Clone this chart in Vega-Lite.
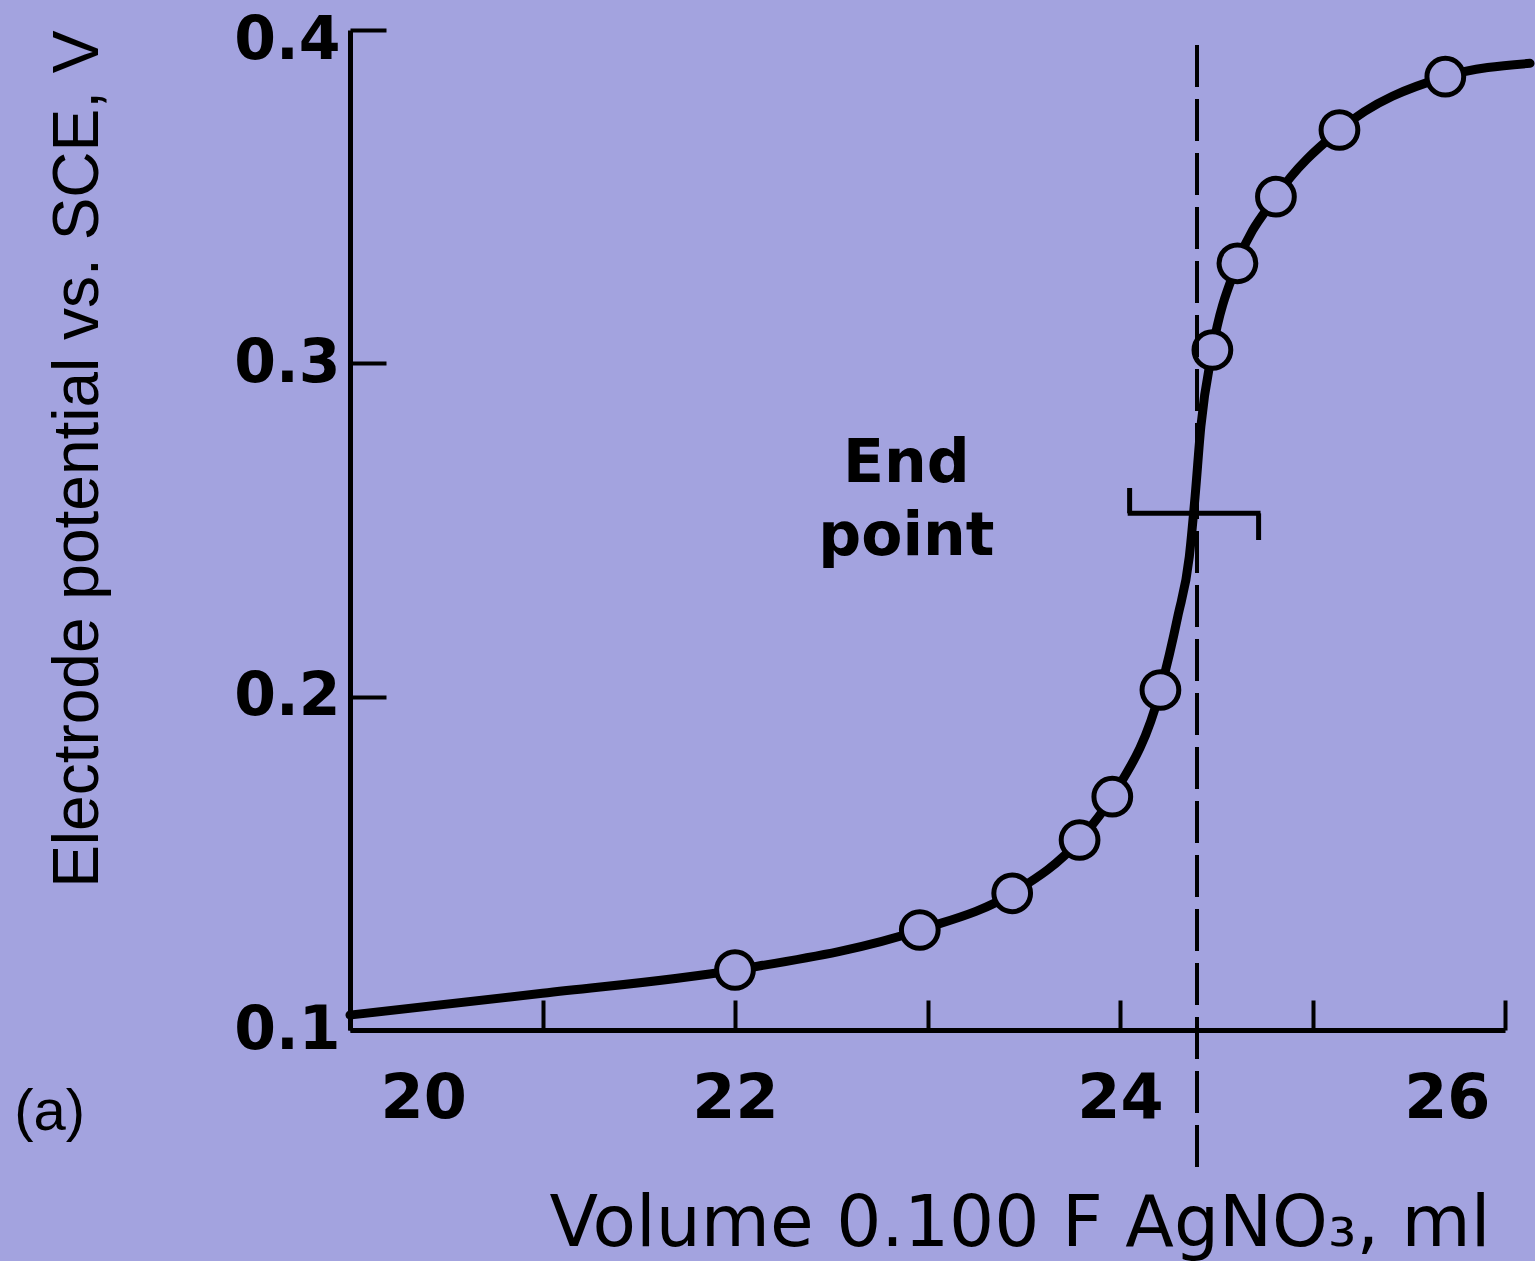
{
  "$schema": "https://vega.github.io/schema/vega-lite/v6.json",
  "autosize": {"type": "none"},
  "padding": {"left": 350, "top": 30, "right": 30, "bottom": 231},
  "width": 1155,
  "height": 1000,
  "background": "#A3A3DF",
  "config": {"view": {"stroke": null}},
  "datasets": {
    "points": [
      {"volume": 22.0, "potential": 0.118},
      {"volume": 22.96, "potential": 0.130},
      {"volume": 23.44, "potential": 0.141},
      {"volume": 23.79, "potential": 0.157},
      {"volume": 23.96, "potential": 0.170},
      {"volume": 24.21, "potential": 0.202},
      {"volume": 24.48, "potential": 0.304},
      {"volume": 24.61, "potential": 0.330},
      {"volume": 24.81, "potential": 0.350},
      {"volume": 25.14, "potential": 0.370},
      {"volume": 25.69, "potential": 0.386}
    ],
    "curve": [
      {"volume": 20.0, "potential": 0.1045},
      {"volume": 21.0, "potential": 0.111},
      {"volume": 22.0, "potential": 0.118},
      {"volume": 22.96, "potential": 0.130},
      {"volume": 23.44, "potential": 0.141},
      {"volume": 23.79, "potential": 0.157},
      {"volume": 23.96, "potential": 0.170},
      {"volume": 24.21, "potential": 0.202},
      {"volume": 24.30, "potential": 0.224},
      {"volume": 24.36, "potential": 0.242},
      {"volume": 24.39, "potential": 0.260},
      {"volume": 24.42, "potential": 0.281},
      {"volume": 24.48, "potential": 0.304},
      {"volume": 24.61, "potential": 0.330},
      {"volume": 24.81, "potential": 0.350},
      {"volume": 25.14, "potential": 0.370},
      {"volume": 25.69, "potential": 0.386},
      {"volume": 26.13, "potential": 0.390}
    ],
    "marker": [
      {"x1": 24.04, "x2": 24.73, "y1": 0.255, "y2": 0.255},
      {"x1": 24.05, "x2": 24.05, "y1": 0.255, "y2": 0.2626},
      {"x1": 24.72, "x2": 24.72, "y1": 0.255, "y2": 0.247}
    ]
  },
  "layer": [
    {
      "data": {"name": "curve"},
      "mark": {"type": "line", "color": "black", "strokeWidth": 9, "interpolate": "monotone", "strokeCap": "round"},
      "encoding": {
        "x": {
          "field": "volume", "type": "quantitative",
          "scale": {"domain": [20, 26], "nice": false, "zero": false},
          "axis": {
            "values": [20, 21, 22, 23, 24, 25, 26],
            "format": "d",
            "labelExpr": "datum.value % 2 == 0 ? datum.label : ''",
            "grid": false,
            "domainColor": "black", "domainWidth": 5,
            "tickColor": "black", "tickWidth": 4, "tickSize": -30,
            "labelFont": "DejaVu Sans", "labelFontWeight": "bold", "labelFontSize": 62,
            "labelColor": "black", "labelPadding": 68, "labelBaseline": "top",
            "labelOffset": {"condition": [{"test": "datum.value == 20", "value": 30}, {"test": "datum.value == 26", "value": -15}], "value": 0},
            "title": "Volume 0.100 F AgNO₃, ml",
            "titleFont": "DejaVu Sans", "titleFontWeight": "normal", "titleFontSize": 71,
            "titleColor": "black", "titleX": 1140, "titleY": 215, "titleAlign": "right", "titleBaseline": "alphabetic"
          }
        },
        "y": {
          "field": "potential", "type": "quantitative",
          "scale": {"domain": [0.1, 0.4], "nice": false, "zero": false},
          "axis": {
            "values": [0.1, 0.2, 0.3, 0.4],
            "format": ".1f",
            "grid": false,
            "domainColor": "black", "domainWidth": 5,
            "tickColor": "black", "tickWidth": 4, "tickSize": -36,
            "labelFont": "DejaVu Sans", "labelFontWeight": "bold", "labelFontSize": 60,
            "labelColor": "black", "labelPadding": 46,
            "labelOffset": {"condition": {"test": "datum.value == 0.4", "value": 10}, "value": 0},
            "title": "Electrode potential vs. SCE, V",
            "titleFont": "Liberation Sans", "titleFontWeight": "normal", "titleFontSize": 64,
            "titleColor": "black", "titleAngle": -90, "titleX": -253, "titleY": 0,
            "titleAlign": "right", "titleBaseline": "alphabetic"
          }
        }
      }
    },
    {
      "data": {"name": "points"},
      "mark": {"type": "point", "shape": "circle", "filled": true, "fill": "#A3A3DF", "stroke": "black", "strokeWidth": 5, "size": 1350, "opacity": 1},
      "encoding": {
        "x": {"field": "volume", "type": "quantitative"},
        "y": {"field": "potential", "type": "quantitative"}
      }
    },
    {
      "data": {"values": [{"label": "end point line"}]},
      "mark": {"type": "rule", "color": "black", "strokeWidth": 4, "strokeDash": [42, 12]},
      "encoding": {
        "x": {"datum": 24.40},
        "y": {"datum": 0.3955},
        "y2": {"datum": 0.056}
      }
    },
    {
      "data": {"name": "marker"},
      "mark": {"type": "rule", "color": "black", "strokeWidth": 5},
      "encoding": {
        "x": {"field": "x1", "type": "quantitative"},
        "x2": {"field": "x2"},
        "y": {"field": "y1", "type": "quantitative"},
        "y2": {"field": "y2"}
      }
    },
    {
      "data": {"values": [{"label": "End\npoint"}]},
      "mark": {"type": "text", "lineBreak": "\n", "font": "DejaVu Sans", "fontWeight": "bold", "fontSize": 60, "lineHeight": 73, "align": "center", "baseline": "alphabetic", "color": "black"},
      "encoding": {
        "text": {"field": "label"},
        "x": {"datum": 22.89},
        "y": {"datum": 0.2644}
      }
    },
    {
      "data": {"values": [{"label": "(a)"}]},
      "mark": {"type": "text", "font": "Liberation Sans", "fontSize": 58, "align": "center", "baseline": "alphabetic", "color": "black"},
      "encoding": {
        "text": {"field": "label"},
        "x": {"datum": 18.44},
        "y": {"datum": 0.07}
      }
    }
  ]
}
